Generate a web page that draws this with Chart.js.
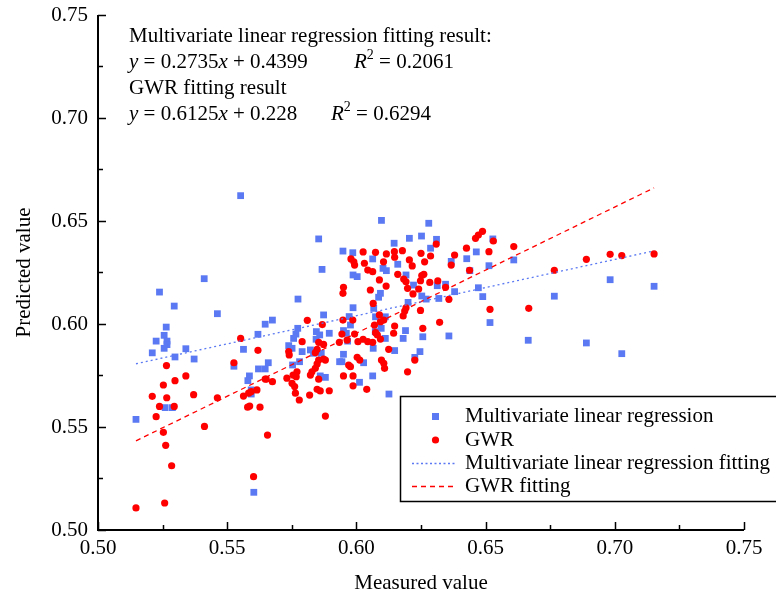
<!doctype html>
<html lang="en">
  <head>
    <meta charset="utf-8">
    <title>Measured vs predicted</title>
    <style>
      * { margin: 0; padding: 0; }
      body { background: #fff; }
      .chartBox { width: 776px; height: 596px; }
    </style>
  </head>
  <body>
    <div class="chartBox">
      <canvas id="myChart" width="776" height="596"></canvas>
    </div>
    <script src="https://cdn.jsdelivr.net/npm/chart.js"></script>
    <script>
    // data
    const mlrX = [0.5552,0.5411,0.5238,0.5295,0.5462,0.5264,0.5256,0.5225,0.5267,0.5267,0.5256,0.534,0.521,0.5298,0.5372,0.5563,0.5619,0.5647,
      0.5526,0.5621,0.5647,0.5586,0.558,0.5593,0.5593,0.526,0.5288,0.5147,0.5603,
      0.6097,0.628,0.5854,0.6252,0.6205,0.6146,0.5948,0.5986,0.6063,0.5867,0.5987,0.6003,0.6103,0.6116,0.616,0.6287,0.6192,0.6221,0.5774,0.6093,0.6086,
      0.5987,0.6067,0.62,0.6253,0.627,0.5873,0.5675,0.5773,0.5972,0.5977,0.6074,0.6112,0.595,0.5961,0.5766,0.5757,0.5738,0.5751,0.5845,0.5858,0.5844,
      0.5895,0.6073,0.6096,0.6112,0.619,0.6257,0.6181,0.579,0.5822,0.5834,0.5864,0.595,0.6065,0.6148,0.6246,0.5966,
      0.5659,0.5753,0.578,0.586,0.588,0.5935,0.5944,0.6028,0.6012,0.6063,0.6126,0.6226,
      0.631,0.6528,0.6464,0.6367,0.6427,0.6609,0.6513,0.6439,0.6313,0.6345,0.638,0.6472,0.6319,0.6489,0.6766,0.6517,0.6358,0.6665,0.689,
      0.6982,0.7152,0.7027];
    const mlrY = [0.6623,0.622,0.6155,0.6087,0.605,0.5985,0.5945,0.5917,0.5917,0.590,0.5882,0.588,0.586,0.584,0.583,0.5877,0.595,0.5999,
      0.5795,0.5782,0.5782,0.5748,0.5725,0.568,0.566,0.5594,0.5594,0.5537,0.5183,
      0.6503,0.6489,0.6413,0.6427,0.6416,0.6392,0.6354,0.6346,0.6316,0.6265,0.6238,0.623,0.627,0.6259,0.629,0.6368,0.6238,0.6189,0.6121,0.6149,0.613,
      0.6079,0.6076,0.6105,0.6136,0.6121,0.6044,0.6019,0.5979,0.6036,0.5995,0.6035,0.6035,0.5968,0.5955,0.5951,0.593,0.5895,0.5882,0.5963,0.5947,0.5926,
      0.5955,0.5963,0.5979,0.593,0.5968,0.5938,0.593,0.5866,0.5874,0.5858,0.5858,0.5853,0.5882,0.5871,0.5866,0.5917,
      0.5812,0.5801,0.5817,0.5748,0.5741,0.5817,0.5817,0.5812,0.5717,0.5748,0.566,0.5838,
      0.6411,0.6413,0.635,0.6304,0.6317,0.6311,0.6283,0.6259,0.6186,0.6193,0.6157,0.6176,0.6124,0.6133,0.6135,0.6007,0.5942,0.5921,0.5908,
      0.6215,0.6183,0.5856];

    const gwrX = [0.5552,0.5619,
      0.5526,0.5265,0.534,0.5298,0.5253,0.521,0.5266,0.537,0.5462,0.5238,0.5295,0.5225,0.5253,0.5262,0.5412,0.5285,0.5147,0.5258,0.5602,
      0.5563,0.5583,0.5593,0.5615,0.5579,0.5587,0.5627,0.5647,0.5656,
      0.6026,0.6074,0.6116,0.6147,0.6178,0.625,0.5979,0.599,0.5993,0.6031,0.6105,0.6148,0.6205,0.6216,0.6264,0.6287,0.6044,0.6063,0.6089,0.616,
      0.6183,0.6192,0.6253,0.6261,0.6248,0.6115,0.595,0.5948,0.6054,0.6198,0.6241,0.6219,0.6065,0.6192,0.6187,0.6248,0.6181,0.6089,0.6093,0.6106,
      0.581,0.5868,0.5948,0.5986,0.607,0.6148,0.6257,0.5944,0.5993,0.6074,0.6081,0.6144,0.6093,0.579,0.5854,0.5873,0.5934,0.5964,0.6006,0.6026,
      0.6044,0.6063,0.6125,0.5738,0.574,0.5841,0.5848,0.5873,0.6003,
      0.5651,0.5675,0.5731,0.5755,0.577,0.5767,0.5751,0.5761,0.5764,0.5779,0.5822,0.5828,0.5841,0.5848,0.5854,0.588,0.5854,0.5819,0.5848,0.586,
      0.5895,0.588,0.595,0.5987,0.597,0.5977,0.6013,0.5987,0.604,0.6097,0.6106,0.6109,0.6198,0.6226,
      0.6488,0.6472,0.6461,0.653,0.6309,0.6609,0.6426,0.6513,0.638,0.6367,0.6438,0.6284,0.6315,0.6345,0.6358,0.6517,0.6667,0.6766,0.689,0.6322,
      0.6982,0.7027,0.7152];
    const gwrY = [0.593,0.5872,
      0.5812,0.5798,0.5748,0.5725,0.5704,0.5649,0.5642,0.5657,0.5642,0.56,0.56,0.555,0.5474,0.5411,0.5503,0.5312,0.5107,0.5131,0.5259,
      0.565,0.5664,0.5672,0.568,0.5596,0.5602,0.5596,0.5733,0.5461,
      0.635,0.6348,0.634,0.6351,0.6356,0.6343,0.6316,0.6302,0.6286,0.6295,0.6302,0.6324,0.6311,0.6282,0.6302,0.633,0.6262,0.6254,0.6214,0.6241,
      0.6218,0.6205,0.6235,0.6241,0.621,0.6184,0.6178,0.6149,0.6165,0.6173,0.617,0.6146,0.61,0.6079,0.6063,0.6066,0.6039,0.6044,0.6011,0.6019,
      0.6018,0.5997,0.6019,0.6019,0.5995,0.599,0.5979,0.5951,0.5951,0.5958,0.5947,0.5955,0.5927,0.5914,0.5911,0.5901,0.5911,0.5922,0.5914,0.5926,
      0.5914,0.5911,0.5877,0.5866,0.585,0.5861,0.5877,0.583,0.5838,
      0.5732,0.572,0.5737,0.5752,0.5768,0.5744,0.5712,0.5696,0.5664,0.5631,0.5752,0.5768,0.5785,0.5806,0.5825,0.5825,0.5732,0.5655,0.5683,0.5675,
      0.5676,0.5553,0.5748,0.5748,0.5801,0.5793,0.5825,0.57,0.5683,0.5825,0.5809,0.5785,0.5768,0.5825,
      0.645,0.6432,0.6416,0.6403,0.6388,0.6376,0.6368,0.6351,0.6335,0.6286,0.6261,0.6202,0.6209,0.6178,0.612,0.6071,0.6076,0.6261,0.6314,0.6008,
      0.6338,0.6332,0.634];

    // fitted lines: end points
    const fitX = [0.5147, 0.7152];
    const mlrFitY = [0.5807, 0.6355];
    const gwrFitY = [0.5433, 0.6661];

    const tickValues = [0.50, 0.55, 0.60, 0.65, 0.70, 0.75];

    const BLUE = '#5b79f2';
    const RED = '#ff0000';
    const SERIF = '"Liberation Serif", "Times New Roman", serif';
    const FS = 21;

    const toPoints = (xs, ys) => xs.map((x, i) => ({ x: x, y: ys[i] }));

    // axes with inner ticks, annotation text, legend box
    const decor = {
      id: 'decor',
      beforeDatasetsDraw(chart) {
        const ctx = chart.ctx;
        const xs = chart.scales.x, ys = chart.scales.y;
        const left = xs.left, bottom = ys.bottom, top = ys.top, right = xs.right;
        ctx.save();
        ctx.strokeStyle = '#000';
        ctx.lineWidth = 2;
        ctx.beginPath();
        ctx.moveTo(left, top);
        ctx.lineTo(left, bottom);
        ctx.lineTo(right, bottom);
        ctx.stroke();
        ctx.lineWidth = 1.5;
        ctx.beginPath();
        for (let v = 0.5; v <= 0.7501; v += 0.025) {
          const major = Math.round(v * 1000) % 50 === 0;
          const len = major ? 8 : 5;
          const px = Math.round(xs.getPixelForValue(v)) + 0.5;
          ctx.moveTo(px, bottom);
          ctx.lineTo(px, bottom - len);
          const py = Math.round(ys.getPixelForValue(v)) + 0.5;
          ctx.moveTo(left, py);
          ctx.lineTo(left + len, py);
        }
        ctx.stroke();
        ctx.restore();
      },
      afterDraw(chart) {
        const ctx = chart.ctx;
        ctx.save();
        ctx.fillStyle = '#000';
        ctx.textBaseline = 'middle';
        const norm = FS + 'px ' + SERIF, ital = 'italic ' + FS + 'px ' + SERIF, small = '14px ' + SERIF;
        function run(x, y, parts) {
          parts.forEach(p => {
            ctx.font = p[1];
            ctx.fillText(p[0], x, y + (p[2] || 0));
            x += ctx.measureText(p[0]).width;
          });
        }
        run(129, 36, [['Multivariate linear regression fitting result:', norm]]);
        run(129, 62, [['y', ital], [' = 0.2735', norm], ['x', ital], [' + 0.4399', norm]]);
        run(354, 62, [['R', ital], ['2', small, -7], [' = 0.2061', norm]]);
        run(129, 88, [['GWR fitting result', norm]]);
        run(129, 114, [['y', ital], [' = 0.6125', norm], ['x', ital], [' + 0.228', norm]]);
        run(331, 114, [['R', ital], ['2', small, -7], [' = 0.6294', norm]]);

        // legend
        ctx.strokeStyle = '#000';
        ctx.lineWidth = 1.5;
        ctx.strokeRect(400.5, 396.5, 390, 105);
        ctx.fillStyle = BLUE;
        ctx.fillRect(432, 413, 7, 7);
        ctx.fillStyle = RED;
        ctx.beginPath();
        ctx.arc(435.5, 440, 3.6, 0, Math.PI * 2);
        ctx.fill();
        ctx.lineWidth = 1.3;
        ctx.strokeStyle = BLUE;
        ctx.setLineDash([2, 2.5]);
        ctx.beginPath(); ctx.moveTo(412, 463.5); ctx.lineTo(456, 463.5); ctx.stroke();
        ctx.strokeStyle = RED;
        ctx.setLineDash([5, 4]);
        ctx.beginPath(); ctx.moveTo(412, 486.5); ctx.lineTo(456, 486.5); ctx.stroke();
        ctx.setLineDash([]);
        ctx.fillStyle = '#000';
        ctx.font = norm;
        ctx.fillText('Multivariate linear regression', 465, 416);
        ctx.fillText('GWR', 465, 440);
        ctx.fillText('Multivariate linear regression fitting', 465, 463);
        ctx.fillText('GWR fitting', 465, 486);
        ctx.restore();
      }
    };

    const data = {
      datasets: [
        {
          label: 'Multivariate linear regression fitting',
          type: 'line',
          data: toPoints(fitX, mlrFitY),
          borderColor: BLUE,
          borderWidth: 1.3,
          borderDash: [2, 3],
          pointRadius: 0,
          order: 0
        },
        {
          label: 'GWR fitting',
          type: 'line',
          data: toPoints(fitX, gwrFitY),
          borderColor: RED,
          borderWidth: 1.3,
          borderDash: [5, 4],
          pointRadius: 0,
          order: 0
        },
        {
          label: 'GWR',
          data: toPoints(gwrX, gwrY),
          backgroundColor: RED,
          borderWidth: 0,
          pointStyle: 'circle',
          pointRadius: 3.6,
          order: 1
        },
        {
          label: 'Multivariate linear regression',
          data: toPoints(mlrX, mlrY),
          backgroundColor: BLUE,
          borderWidth: 0,
          pointStyle: 'rect',
          pointRadius: 4.8,
          order: 2
        }
      ]
    };

    const config = {
      type: 'scatter',
      data,
      plugins: [decor],
      options: {
        responsive: false,
        animation: false,
        layout: { padding: { left: 0, top: 0, right: 32, bottom: 0 } },
        plugins: { legend: { display: false }, tooltip: { enabled: false } },
        scales: {
          x: {
            type: 'linear',
            min: 0.5, max: 0.75,
            afterBuildTicks: s => { s.ticks = tickValues.map(v => ({ value: v })); },
            afterFit: s => { s.height = 66; },
            grid: { display: false, drawTicks: false },
            border: { display: false },
            ticks: {
              color: '#000',
              padding: 6,
              font: { family: SERIF, size: FS },
              callback: v => v.toFixed(2)
            },
            title: {
              display: true,
              text: 'Measured value',
              color: '#000',
              padding: { top: 4, bottom: 0 },
              font: { family: SERIF, size: FS }
            }
          },
          y: {
            type: 'linear',
            min: 0.5, max: 0.75,
            afterBuildTicks: s => { s.ticks = tickValues.map(v => ({ value: v })); },
            afterFit: s => { s.width = 98; s.paddingTop = 15; },
            grid: { display: false, drawTicks: false },
            border: { display: false },
            ticks: {
              color: '#000',
              padding: 10,
              font: { family: SERIF, size: FS },
              callback: v => v.toFixed(2)
            },
            title: {
              display: true,
              text: 'Predicted value',
              color: '#000',
              padding: { top: 12, bottom: 4 },
              font: { family: SERIF, size: FS }
            }
          }
        }
      }
    };

    const myChart = new Chart(document.getElementById('myChart'), config);
    </script>
  </body>
</html>
